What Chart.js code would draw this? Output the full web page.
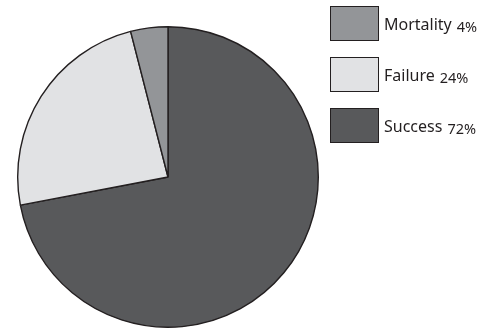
<!DOCTYPE html>
<html lang="en">
<head>
    <meta charset="UTF-8">
    <title>Outcome pie</title>
    <script src="https://cdn.jsdelivr.net/npm/chart.js@4/dist/chart.umd.min.js"></script>
    <style>
        body { margin: 0; background: #fff; }
        #wrap { position: relative; width: 490px; height: 329px; }
        #legend { position: absolute; left: 330px; top: 6px; font-family: "Noto Sans", sans-serif; color: #231f20; }
        .item { display: flex; align-items: center; height: 35px; margin-bottom: 16px; }
        .box { width: 47px; height: 33px; border: 1px solid #231f20; margin-right: 5px; }
        .name { font-size: 16px; }
        .pct { font-size: 14.5px; margin-left: 5px; position: relative; top: 2px; }
    </style>
</head>
<body>
<div id="wrap">
    <canvas id="chart" width="490" height="329"></canvas>
    <div id="legend"></div>
</div>

<script>
    // slices go clockwise from 12 o'clock
    const labels = ['Success', 'Failure', 'Mortality'];
    const shares = [72, 24, 4];
    const colours = ['#58595b', '#e1e2e4', '#939598'];

    // legend lists them bottom-up
    const legend = document.getElementById('legend');
    for (let i = labels.length - 1; i >= 0; i--) {
        const row = document.createElement('div');
        row.className = 'item';
        row.innerHTML = '<div class="box" style="background:' + colours[i] + '"></div>' +
            '<span class="name">' + labels[i] + '</span><span class="pct">' + shares[i] + '%</span>';
        legend.appendChild(row);
    }

    const ctx = document.getElementById('chart').getContext('2d');
    const myChart = new Chart(ctx, {
        type: 'pie',
        data: {
            labels: labels,
            datasets: [{
                data: shares,
                backgroundColor: colours,
                borderColor: '#231f20',
                borderWidth: 1.4
            }]
        },
        options: {
            responsive: false,
            animation: false,
            layout: { padding: { left: 17, top: 26, right: 171, bottom: 1 } },
            plugins: {
                legend: { display: false },
                tooltip: { enabled: false }
            }
        }
    });
</script>
</body>
</html>
